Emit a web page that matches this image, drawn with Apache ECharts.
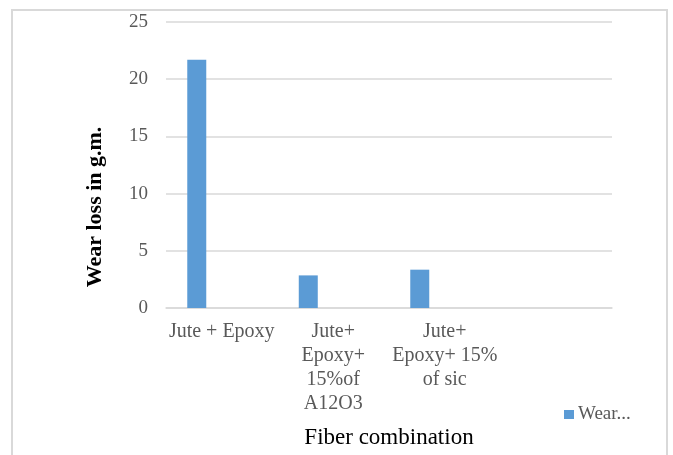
<!DOCTYPE html>
<html>
<head>
<meta charset="utf-8">
<script src="https://cdn.jsdelivr.net/npm/echarts@6/dist/echarts.min.js"></script>
<style>
html,body{margin:0;padding:0;background:#fff;}
#chart{width:673px;height:455px;}
</style>
</head>
<body>
<div id="chart"></div>
<script>
var categories = ["Jute + Epoxy", "Jute+\nEpoxy+\n15%of\nA12O3", "Jute+\nEpoxy+ 15%\nof sic", ""];
var wearLoss = [21.7, 2.85, 3.35, null];
var emptySeries = [null, null, null, null];
var yTicks = {min: 0, max: 25, interval: 5};
var seriesName = "Wear...";
var xTitle = "Fiber combination";
var yTitle = "Wear loss in g.m.";

var serif = "'Liberation Serif', 'Times New Roman', serif";
var chart = echarts.init(document.getElementById('chart'), null, {renderer: 'canvas'});
chart.setOption({
  backgroundColor: '#ffffff',
  animation: false,
  graphic: [
    {type: 'rect', shape: {x: 12, y: 10, width: 655, height: 470}, style: {fill: 'none', stroke: '#d9d9d9', lineWidth: 2}, z: -10},
    {type: 'text', x: 95, y: 207, rotation: Math.PI / 2,
     style: {text: yTitle, font: "bold 22px " + serif, fill: '#000', align: 'center', verticalAlign: 'middle'}}
  ],
  grid: {left: 166, right: 61, top: 22, bottom: 147, containLabel: false},
  legend: {
    left: 559, top: 400, itemWidth: 10, itemHeight: 9, icon: 'rect', itemGap: 5,
    data: [seriesName],
    textStyle: {fontFamily: serif, fontSize: 19, color: '#595959', padding: [0,0,0,-1]}
  },
  xAxis: {
    type: 'category',
    data: categories,
    name: xTitle,
    nameLocation: 'middle',
    nameGap: 118,
    nameTextStyle: {fontFamily: serif, fontSize: 23, color: '#000'},
    axisLine: {show: true, lineStyle: {color: '#d9d9d9', width: 1.5}},
    axisTick: {show: false},
    axisLabel: {interval: 0, fontFamily: serif, fontSize: 20, color: '#595959', lineHeight: 24, margin: 12, verticalAlign: 'top'}
  },
  yAxis: {
    type: 'value',
    min: yTicks.min, max: yTicks.max, interval: yTicks.interval,
    axisLine: {show: false},
    axisTick: {show: false},
    axisLabel: {fontFamily: serif, fontSize: 19, color: '#595959', margin: 18},
    splitLine: {lineStyle: {color: '#d9d9d9', width: 1.5}}
  },
  series: [
    {name: seriesName, type: 'bar', data: wearLoss, barWidth: 19, barGap: '163%',
     itemStyle: {color: '#5b9bd5'}},
    {name: '_empty', type: 'bar', data: emptySeries, barWidth: 19,
     itemStyle: {color: '#ed7d31'}}
  ]
});
</script>
</body>
</html>
